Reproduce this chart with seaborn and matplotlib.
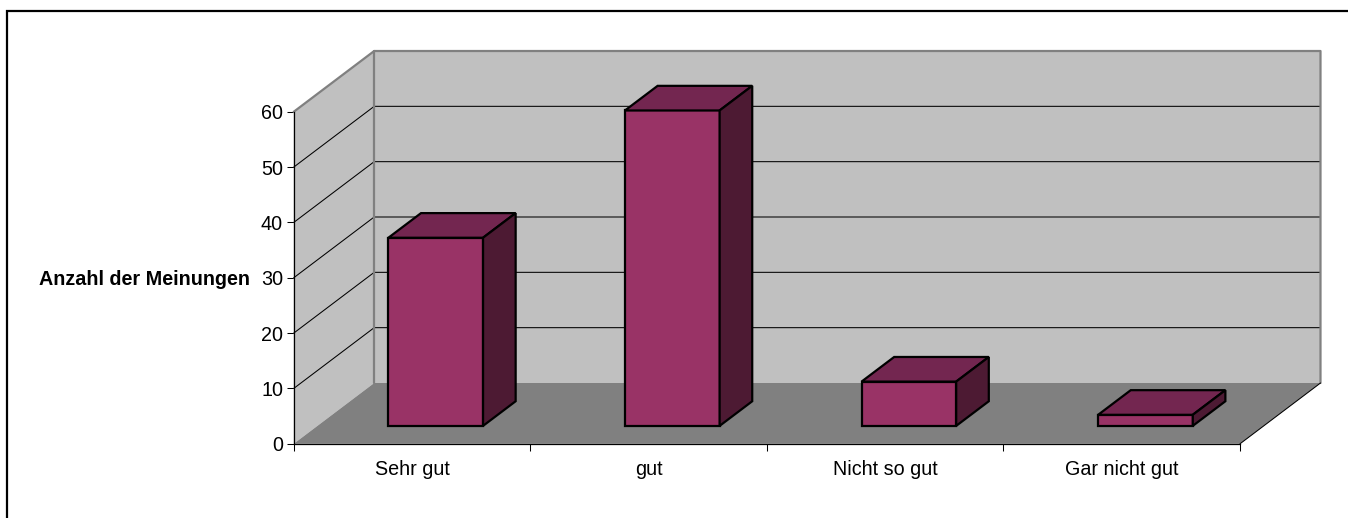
import matplotlib
matplotlib.use("Agg")
import matplotlib.pyplot as plt
from matplotlib.lines import Line2D
from matplotlib.patches import Rectangle
import numpy as np
import pandas as pd
import seaborn as sns

categories = ["Sehr gut", "gut", "Nicht so gut", "Gar nicht gut"]
opinions = [34, 57, 8, 2]
y_ticks = [0, 10, 20, 30, 40, 50, 60]

WIDTH, HEIGHT = 1348, 518
LEFT, RIGHT, BOTTOM, TOP = 293.7, 1240.0, 443.8, 111.8
TEXT_SIZE = 14.2

sns.set_theme(style="white")
plt.rcParams["font.family"] = ["Liberation Sans", "DejaVu Sans"]

fig = plt.figure(figsize=(WIDTH / 100, HEIGHT / 100), dpi=100, facecolor="white")
ax = fig.add_axes([LEFT / WIDTH, 1 - BOTTOM / HEIGHT,
                   (RIGHT - LEFT) / WIDTH, (BOTTOM - TOP) / HEIGHT])
ax.patch.set_visible(False)

# Oblique projection: one unit of depth moves a point right and up in data units.
depth_x = 80.5 / ((RIGHT - LEFT) / 4)
depth_y = 60.8 / ((BOTTOM - TOP) / 60)
near, far = 0.295, 0.70   # depth range occupied by the bars

WALL, FLOOR, EDGE = "#C0C0C0", "#808080", "#808080"
FRONT, ROOF, SIDE = "#993366", "#732650", "#4D1A33"

xmin, xmax = -0.5, 3.5
ymax = y_ticks[-1]

# Back wall, side wall and floor of the chart box
ax.fill([xmin + depth_x, xmax + depth_x, xmax + depth_x, xmin + depth_x],
        [depth_y, depth_y, ymax + depth_y, ymax + depth_y],
        color=WALL, lw=0, zorder=1, clip_on=False)
ax.fill([xmin, xmin + depth_x, xmin + depth_x, xmin],
        [0, depth_y, ymax + depth_y, ymax],
        color=WALL, lw=0, zorder=1, clip_on=False)
ax.fill([xmin, xmax, xmax + depth_x, xmin + depth_x],
        [0, 0, depth_y, depth_y],
        color=FLOOR, lw=0, zorder=1, clip_on=False)

# Gridlines run along the side wall and across the back wall
for v in y_ticks[1:-1]:
    ax.plot([xmin, xmin + depth_x, xmax + depth_x],
            [v, v + depth_y, v + depth_y],
            color="black", lw=0.75, zorder=2, clip_on=False)

# Wall outlines
ax.plot([xmin, xmin + depth_x, xmax + depth_x, xmax + depth_x],
        [ymax, ymax + depth_y, ymax + depth_y, depth_y],
        color=EDGE, lw=1.6, zorder=3, clip_on=False)
ax.plot([xmin + depth_x, xmin + depth_x],
        [depth_y, ymax + depth_y],
        color=EDGE, lw=1.6, zorder=3, clip_on=False)
ax.plot([xmax, xmax + depth_x], [0, depth_y],
        color="black", lw=0.75, zorder=3, clip_on=False)

# Front faces come from the bar plot, then move back onto the floor
data = pd.DataFrame({"Kategorie": categories, "Anzahl": opinions})
sns.barplot(data=data, x="Kategorie", y="Anzahl", width=0.4, color=FRONT,
            saturation=1, edgecolor="black", linewidth=1.6, zorder=5, ax=ax)

bars = [p for p in ax.patches if isinstance(p, Rectangle)]
for bar in bars:
    x0 = bar.get_x() + near * depth_x
    y0 = near * depth_y
    w, h = bar.get_width(), bar.get_height()
    bar.set_x(x0)
    bar.set_y(y0)
    bar.set_clip_on(False)
    dx = (far - near) * depth_x
    dy = (far - near) * depth_y
    style = dict(edgecolor="black", linewidth=1.6, zorder=5,
                 clip_on=False, joinstyle="miter")
    ax.fill([x0, x0 + w, x0 + w + dx, x0 + dx],
            [y0 + h, y0 + h, y0 + h + dy, y0 + h + dy],
            facecolor=ROOF, **style)
    ax.fill([x0 + w, x0 + w + dx, x0 + w + dx, x0 + w],
            [y0, y0 + dy, y0 + h + dy, y0 + h],
            facecolor=SIDE, **style)

ax.set_xlim(xmin, xmax)
ax.set_ylim(0, ymax)
ax.set_xlabel("")
ax.set_ylabel("")

# Axes: ticks between categories on x, labels centred under each category
ax.set_xticks(np.arange(len(categories)), categories)
ax.set_xticks(np.arange(len(categories) + 1) - 0.5, minor=True)
ax.tick_params(axis="x", which="major", length=0, labelsize=TEXT_SIZE, pad=12, colors="black")
ax.tick_params(axis="x", which="minor", length=4.7, width=0.75, color="black", bottom=True)
ax.set_yticks(y_ticks)
ax.tick_params(axis="y", length=4.7, width=0.75, left=True, color="black",
               labelsize=TEXT_SIZE, pad=3, labelcolor="black")

for side in ("top", "right"):
    ax.spines[side].set_visible(False)
for side in ("left", "bottom"):
    ax.spines[side].set_color("black")
    ax.spines[side].set_linewidth(0.9)
    ax.spines[side].set_zorder(4)

fig.text(250 / WIDTH, 1 - 279.5 / HEIGHT, "Anzahl der Meinungen", ha="right", va="center",
         fontsize=TEXT_SIZE, fontweight="bold", color="black")

# Frame lines along the top and left of the chart
fig.add_artist(Line2D([7 / WIDTH, 7 / WIDTH, 1], [0, 1 - 11 / HEIGHT, 1 - 11 / HEIGHT],
                      transform=fig.transFigure, color="black", linewidth=1.6,
                      solid_joinstyle="miter"))

fig.savefig("out.png", dpi=100)
